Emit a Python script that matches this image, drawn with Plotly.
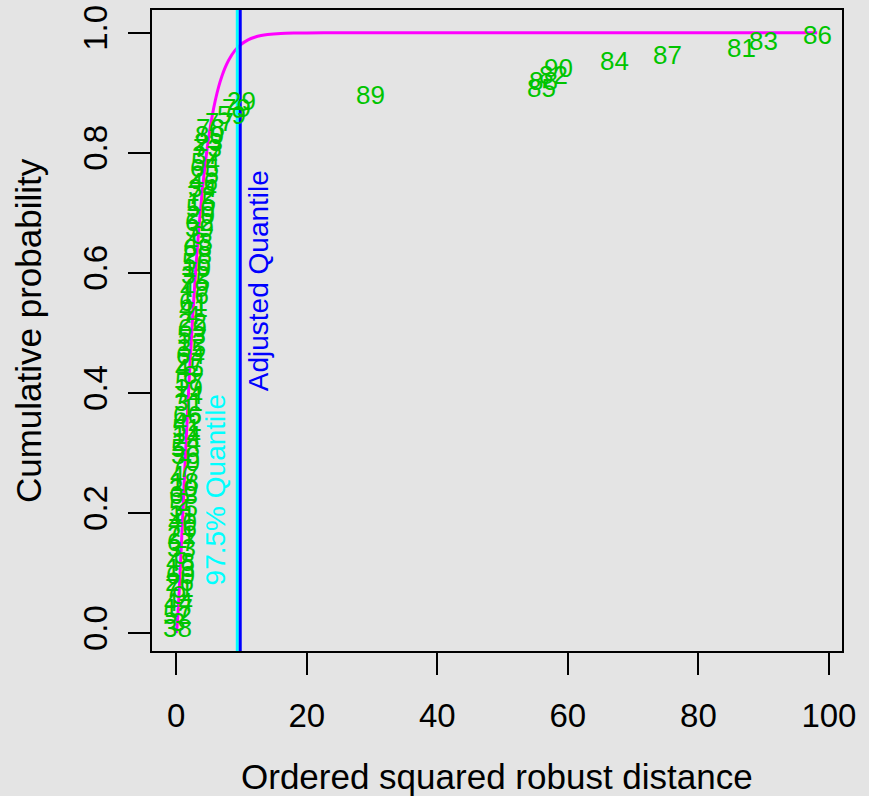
import plotly.graph_objects as go

# ---- data ----
n_total = 90
# ordered squared robust distances (sorted) and observation labels
dist_sorted = [0.12, 0.19, 0.25, 0.31, 0.37, 0.43, 0.47, 0.52, 0.58, 0.63,
               0.67, 0.72, 0.78, 0.81, 0.86, 0.92, 0.96, 1.01, 1.04, 1.09,
               1.15, 1.18, 1.22, 1.29, 1.33, 1.36, 1.43, 1.47, 1.51, 1.58,
               1.61, 1.66, 1.73, 1.78, 1.81, 1.88, 1.93, 1.97, 2.04, 2.08,
               2.15, 2.19, 2.26, 2.30, 2.38, 2.42, 2.50, 2.54, 2.62, 2.67,
               2.75, 2.80, 2.89, 2.94, 3.03, 3.08, 3.18, 3.24, 3.34, 3.40,
               3.50, 3.57, 3.67, 3.75, 3.86, 3.94, 4.07, 4.15, 4.29, 4.38,
               4.53, 4.60, 4.79, 4.90, 5.08, 5.20, 6.60, 8.50, 9.30, 10.0,
               29.8, 56.0, 56.3, 57.8, 58.6, 67.2, 75.3, 86.6, 90.0, 98.2]
point_labels = [38, 3, 52, 17, 44, 9, 71, 26, 60, 13,
                48, 5, 33, 67, 21, 76, 40, 11, 55, 2,
                63, 30, 18, 47, 7, 70, 36, 58, 24, 14,
                51, 42, 66, 1, 31, 74, 19, 57, 8, 45,
                27, 64, 35, 12, 53, 69, 22, 4, 41, 61,
                16, 49, 75, 32, 10, 56, 28, 68, 43, 6,
                39, 62, 20, 50, 15, 72, 34, 46, 25, 65,
                54, 37, 73, 23, 80, 78, 77, 59, 79, 29,
                89, 85, 88, 82, 90, 84, 87, 81, 83, 86]
cum_prob = [(i + 1) / n_total for i in range(n_total)]

# theoretical chi-square (df = 3) cumulative probability
curve_x = [0, 0.05, 0.1, 0.25, 0.5, 0.75, 1, 1.5, 2, 2.5, 3, 3.5, 4, 4.5, 5,
           5.5, 6, 6.5, 7, 7.5, 8, 9, 10, 11, 12, 13, 14, 16, 18, 20, 25, 30, 98.2]
curve_p = [0, 0.003, 0.0082, 0.0309, 0.0811, 0.1386, 0.1987, 0.3177, 0.4276,
           0.5247, 0.6084, 0.6792, 0.7385, 0.7877, 0.8282, 0.8614, 0.8884,
           0.9103, 0.9281, 0.9424, 0.9540, 0.9707, 0.9814, 0.9883, 0.9926,
           0.9954, 0.9971, 0.9989, 0.99956, 0.99983, 0.99998, 1.0, 1.0]

quantile_975 = 9.35
adjusted_quantile = 9.8

x_ticks = [0, 20, 40, 60, 80, 100]
y_ticks = [0, 0.2, 0.4, 0.6, 0.8, 1.0]
y_tick_text = ["0.0", "0.2", "0.4", "0.6", "0.8", "1.0"]

FONT = "Liberation Sans, Arial, Helvetica, sans-serif"
BG = "#e4e4e4"
GREEN = "#00c400"

fig = go.Figure()
# invisible trace that carries the points (keeps axes data-driven)
fig.add_trace(go.Scatter(
    x=dist_sorted, y=cum_prob, mode="markers", marker=dict(opacity=0),
    hoverinfo="skip", showlegend=False))
# observation labels drawn at each point
for xv, yv, lab in zip(dist_sorted, cum_prob, point_labels):
    fig.add_annotation(x=xv, y=yv, xref="x", yref="y", text=str(lab),
                       showarrow=False, xanchor="center", yanchor="middle",
                       yshift=-2, borderpad=0,
                       font=dict(family=FONT, size=26, color=GREEN))

fig.add_trace(go.Scatter(
    x=curve_x, y=curve_p, mode="lines",
    line=dict(color="#ff00ff", width=3, shape="spline", smoothing=0.6),
    hoverinfo="skip", showlegend=False))

for xv, col in [(quantile_975, "#00ffff"), (adjusted_quantile, "#0000ff")]:
    fig.add_shape(type="line", xref="x", yref="paper", x0=xv, x1=xv, y0=0, y1=1,
                  line=dict(color=col, width=3), layer="above")

fig.add_annotation(x=5.97, y=0.238, xref="x", yref="y", text="97.5% Quantile",
                   textangle=-90, showarrow=False,
                   font=dict(family=FONT, size=28, color="#00ffff"))
fig.add_annotation(x=12.6, y=0.587, xref="x", yref="y", text="Adjusted Quantile",
                   textangle=-90, showarrow=False,
                   font=dict(family=FONT, size=28, color="#0000ff"))

# axis titles
fig.add_annotation(x=0.5, y=-0.229, xref="paper", yref="paper",
                   text="Ordered squared robust distance", showarrow=False,
                   font=dict(family=FONT, size=35, color="black"))
fig.add_annotation(x=-0.21, y=0.5, xref="paper", yref="paper",
                   text="Cumulative probability", showarrow=False, textangle=-90,
                   font=dict(family=FONT, size=35, color="black"))

fig.update_layout(
    width=869, height=796,
    margin=dict(l=152, r=27, t=10, b=145, autoexpand=False),
    paper_bgcolor=BG, plot_bgcolor=BG,
    font=dict(family=FONT, color="black"),
    xaxis=dict(range=[-3.72, 102.0], tickvals=x_ticks, ticks="outside", ticklen=22,
               tickwidth=2, tickcolor="black", showline=True, linecolor="black",
               linewidth=2, mirror=True, showgrid=False, zeroline=False,
               ticklabelstandoff=12, automargin=False,
               tickfont=dict(family=FONT, size=33, color="black")),
    yaxis=dict(range=[-0.03, 1.038], tickvals=y_ticks, ticktext=y_tick_text,
               tickangle=-90, ticks="outside", ticklen=22, tickwidth=2,
               tickcolor="black", showline=True, linecolor="black", linewidth=2,
               mirror=True, showgrid=False, zeroline=False,
               ticklabelstandoff=8, automargin=False,
               tickfont=dict(family=FONT, size=33, color="black")),
)

fig.write_html(
    "out.html",
    config={"displayModeBar": False},
    post_script="document.body.style.margin='0';document.body.style.background='%s';"
                "document.documentElement.style.background='%s';" % (BG, BG),
)
